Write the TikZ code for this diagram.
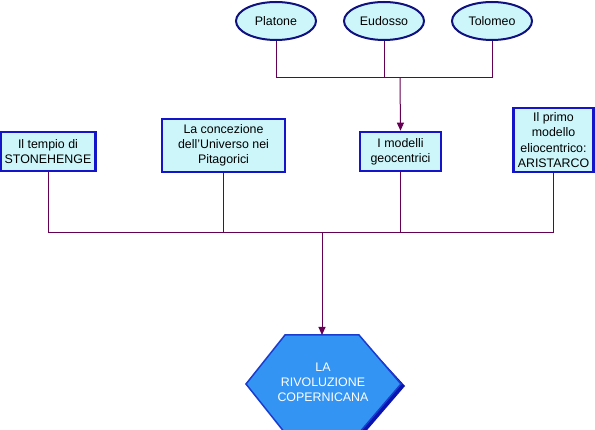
\documentclass[tikz,border=0pt]{standalone}
\usepackage{fontspec}
\setmainfont{Liberation Sans}
\usetikzlibrary{arrows.meta,shapes.geometric}
\definecolor{boxfill}{HTML}{CCF6FA}
\definecolor{boxline}{HTML}{1414C8}
\definecolor{ellline}{HTML}{101080}
\definecolor{conn}{HTML}{660055}
\definecolor{hexfill}{HTML}{3394F4}
\definecolor{hexline}{HTML}{1A3CD0}
\definecolor{hexshadow}{HTML}{0A14B0}
\tikzset{
  topic/.style={draw=boxline, line width=2.6pt, fill=boxfill, align=center,
    font=\fontsize{12.4}{15.2}\selectfont, inner sep=0pt},
  person/.style={ellipse, draw=ellline, line width=2pt, fill=boxfill,
    minimum width=80pt, minimum height=38pt, inner sep=0pt,
    font=\fontsize{12.4}{15.2}\selectfont},
  link/.style={draw=conn, line width=1pt},
  arrowlink/.style={link, -{Triangle[length=8pt,width=7pt]}},
}
\begin{document}
\begin{tikzpicture}[x=1pt,y=-1pt]
\useasboundingbox[fill=white] (0,0) rectangle (595,430);
% ellipses
\node[person] (platone) at (276,21) {Platone};
\node[person] (eudosso) at (384,21) {Eudosso};
\node[person] (tolomeo) at (492,21) {Tolomeo};
% boxes
\node[topic, minimum width=95pt, minimum height=39pt] (stone) at (48,151.5) {Il tempio di\\STONEHENGE};
\node[topic, minimum width=123pt, minimum height=53pt] (pitag) at (223.5,145.5) {La concezione\\dell'Universo nei\\Pitagorici};
\node[topic, minimum width=81pt, minimum height=39pt] (geo) at (400.5,151.5) {I modelli\\geocentrici};
\node[topic, minimum width=80pt, minimum height=64pt] (aris) at (553.5,140) {Il primo\\modello\\eliocentrico:\\ARISTARCO};
% hexagon
\fill[hexshadow] (289,339) -- (362,339) -- (405,386) -- (362,436) -- (289,436) -- (250,386) -- cycle;
\filldraw[fill=hexfill, draw=hexline, line width=1.5pt]
  (285,335) -- (359,335) -- (401,384) -- (359,433) -- (285,433) -- (246,384) -- cycle;
\coordinate (rivotop) at (322,335);
\node[align=center, text=white, font=\fontsize{12.4}{15.2}\selectfont] (rivo) at (323,382) {LA\\RIVOLUZIONE\\COPERNICANA};
% connectors top
\coordinate (j1) at (400,78);
\draw[link] (platone.south) |- (j1);
\draw[link] (tolomeo.south) |- (j1);
\draw[link] (eudosso.south) -- (eudosso.south |- j1);
\draw[arrowlink] (j1) -- (geo.north);
% connectors bottom
\coordinate (j2) at (322,233);
\draw[link] (stone.south) |- (j2);
\draw[link] (aris.south) |- (j2);
\draw[link] (pitag.south) -- (pitag.south |- j2);
\draw[link] (geo.south) -- (geo.south |- j2);
\draw[arrowlink] (j2) -- (rivotop);
\end{tikzpicture}
\end{document}
